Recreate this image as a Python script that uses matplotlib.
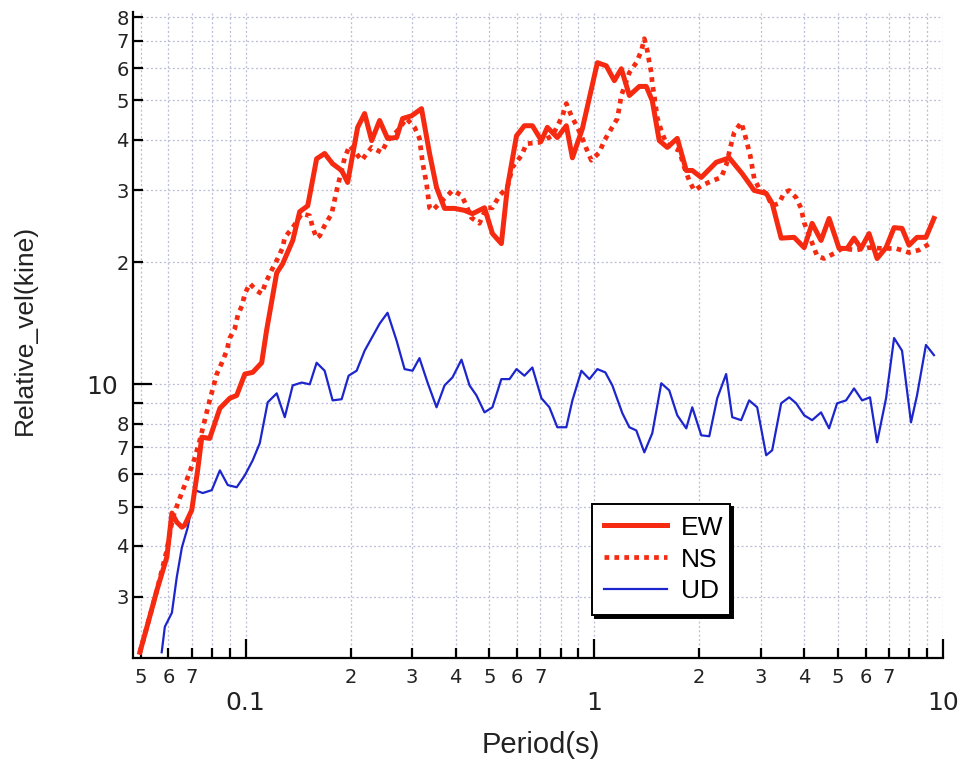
import numpy as np
import matplotlib
matplotlib.use('Agg')
import matplotlib.pyplot as plt
from matplotlib.ticker import LogLocator, FuncFormatter

plt.rcParams['font.family'] = ['DejaVu Sans']

# EW component (period s, relative velocity kine)
ew_period = [0.0497, 0.0524, 0.0556, 0.0594, 0.0614, 0.0634, 0.0656, 0.0668, 0.0700, 0.0728,
             0.0748, 0.0788, 0.0843, 0.0900, 0.0942, 0.0994, 0.1047, 0.1111, 0.1148, 0.1227,
             0.1276, 0.1364, 0.1428, 0.1506, 0.1597, 0.1684, 0.1775, 0.1884, 0.1960, 0.2094,
             0.2193, 0.2297, 0.2421, 0.2551, 0.2709, 0.2818, 0.2990, 0.3193, 0.3367, 0.3526,
             0.3718, 0.397, 0.424, 0.447, 0.484, 0.510, 0.541, 0.563, 0.598, 0.630,
             0.664, 0.705, 0.733, 0.783, 0.831, 0.865, 0.924, 1.020, 1.082, 1.141,
             1.195, 1.260, 1.346, 1.409, 1.466, 1.535, 1.619, 1.729, 1.835, 1.909,
             2.026, 2.237, 2.437, 2.655, 2.874, 3.111, 3.236, 3.434, 3.741, 3.998,
             4.213, 4.469, 4.713, 5.035, 5.309, 5.558, 5.821, 6.137, 6.471, 6.866,
             7.240, 7.630, 7.991, 8.424, 8.936, 9.42]
ew_vel = [2.19, 2.58, 3.11, 3.76, 4.82, 4.58, 4.45, 4.50, 4.90, 6.15,
          7.41, 7.36, 8.73, 9.24, 9.39, 10.6, 10.7, 11.3, 13.6, 18.8,
          19.8, 22.6, 26.6, 27.5, 35.9, 37.0, 34.9, 33.6, 31.4, 42.9,
          46.4, 39.8, 44.6, 40.3, 40.5, 45.1, 45.8, 47.7, 37.0, 30.5,
          27.1, 27.1, 26.8, 26.3, 27.2, 23.5, 22.2, 30.5, 40.9, 43.3,
          43.3, 39.8, 42.9, 40.5, 43.3, 36.1, 42.6, 61.9, 60.8, 55.9,
          59.8, 51.4, 54.1, 54.1, 49.9, 39.8, 38.3, 40.3, 33.6, 33.6,
          32.3, 35.2, 36.1, 33.0, 30.0, 29.5, 27.9, 22.9, 23.0, 21.7,
          24.9, 22.6, 25.6, 21.6, 21.6, 22.9, 21.6, 23.5, 20.4, 21.7,
          24.3, 24.2, 22.0, 23.0, 23.0, 25.6]

# NS component
ns_period = [0.0497, 0.0524, 0.0556, 0.0594, 0.0618, 0.0647, 0.0682, 0.0714, 0.0738, 0.0763,
             0.0788, 0.0826, 0.0854, 0.0882, 0.0900, 0.0930, 0.0949, 0.0975, 0.0994, 0.1027,
             0.1075, 0.1111, 0.1141, 0.1187, 0.1235, 0.1276, 0.1294, 0.1364, 0.1447, 0.1526,
             0.1556, 0.1597, 0.1630, 0.1684, 0.1764, 0.1823, 0.1859, 0.1922, 0.1986, 0.2150,
             0.2297, 0.2453, 0.2551, 0.2726, 0.2892, 0.3050, 0.3150, 0.3214, 0.330, 0.3367,
             0.3434, 0.3918, 0.4158, 0.4297, 0.444, 0.468, 0.490, 0.510, 0.535, 0.563,
             0.582, 0.618, 0.639, 0.696, 0.758, 0.810, 0.831, 0.859, 0.894, 0.924,
             0.949, 0.980, 1.033, 1.068, 1.119, 1.164, 1.179, 1.195, 1.260, 1.319,
             1.364, 1.391, 1.419, 1.438, 1.457, 1.466, 1.485, 1.515, 1.556, 1.608,
             1.673, 1.752, 1.811, 1.872, 1.934, 2.040, 2.179, 2.311, 2.388, 2.470,
             2.519, 2.637, 2.692, 2.744, 2.799, 2.874, 2.971, 3.111, 3.236, 3.388,
             3.503, 3.621, 3.792, 3.918, 3.998, 4.077, 4.186, 4.355, 4.561, 4.873,
             5.135, 5.633, 6.137, 6.685, 7.33, 7.991, 8.53, 9.24]
ns_vel = [2.19, 2.58, 3.11, 3.91, 4.71, 5.25, 5.91, 6.58, 7.28, 8.16,
          9.13, 10.6, 11.3, 12.1, 13.0, 13.7, 14.8, 15.6, 16.7, 17.7,
          17.0, 16.7, 17.8, 19.1, 20.4, 21.7, 23.0, 24.3, 26.3, 26.0,
          24.3, 22.9, 23.2, 24.6, 26.3, 30.0, 32.1, 36.1, 38.7, 35.6,
          38.3, 37.2, 39.8, 42.1, 45.1, 42.9, 40.3, 35.2, 31.2, 27.2,
          26.8, 30.0, 29.2, 27.5, 25.7, 24.9, 27.2, 27.2, 29.2, 30.5,
          34.2, 36.6, 39.1, 39.4, 40.9, 45.8, 49.1, 45.8, 42.9, 40.3,
          38.0, 35.6, 37.2, 39.8, 42.6, 45.1, 48.0, 51.4, 58.5, 61.9,
          66.2, 70.9, 66.2, 61.9, 58.5, 55.0, 51.4, 45.3, 42.1, 39.1,
          38.3, 37.6, 34.2, 31.7, 30.0, 30.9, 31.7, 32.3, 34.6, 39.1,
          41.7, 44.1, 41.7, 39.1, 36.6, 32.1, 30.3, 29.5, 27.5, 27.9,
          29.6, 30.0, 28.8, 27.1, 25.0, 23.9, 22.6, 20.7, 20.4, 21.0,
          21.6, 21.4, 21.7, 21.6, 21.6, 21.1, 21.4, 22.3]

# UD component
ud_period = [0.0574, 0.0586, 0.0614, 0.0634, 0.0656, 0.0682, 0.0714, 0.0753, 0.0799, 0.0843,
             0.0888, 0.0942, 0.0994, 0.1047, 0.1097, 0.1156, 0.1227, 0.1294, 0.1364, 0.1447,
             0.1526, 0.1597, 0.1684, 0.1775, 0.1884, 0.1973, 0.208, 0.2193, 0.2297, 0.2421,
             0.2551, 0.2709, 0.2855, 0.3010, 0.3150, 0.3323, 0.3526, 0.3718, 0.3918, 0.4158,
             0.4384, 0.459, 0.484, 0.510, 0.541, 0.571, 0.598, 0.630, 0.664, 0.705,
             0.743, 0.783, 0.831, 0.865, 0.918, 0.968, 1.020, 1.075, 1.126, 1.203,
             1.260, 1.319, 1.391, 1.466, 1.556, 1.640, 1.729, 1.835, 1.909, 2.026,
             2.136, 2.251, 2.388, 2.486, 2.637, 2.780, 2.931, 3.111, 3.236, 3.434,
             3.621, 3.792, 3.998, 4.213, 4.469, 4.713, 4.969, 5.273, 5.558, 5.861,
             6.175, 6.471, 6.866, 7.240, 7.630, 8.096, 8.424, 8.936, 9.42]
ud_vel = [2.19, 2.53, 2.74, 3.35, 3.97, 4.45, 5.49, 5.40, 5.49, 6.14,
          5.65, 5.58, 5.97, 6.50, 7.16, 9.03, 9.50, 8.30, 9.94, 10.1,
          10.0, 11.3, 10.8, 9.13, 9.19, 10.5, 10.8, 12.1, 13.0, 14.1,
          15.0, 12.8, 10.9, 10.8, 11.6, 10.1, 8.78, 9.94, 10.4, 11.5,
          9.94, 9.39, 8.53, 8.78, 10.3, 10.3, 10.9, 10.5, 11.0, 9.24,
          8.78, 7.84, 7.84, 9.13, 10.8, 10.3, 10.9, 10.7, 9.94, 8.49,
          7.84, 7.70, 6.80, 7.58, 10.06, 9.66, 8.39, 7.79, 8.78, 7.49,
          7.45, 9.24, 10.6, 8.30, 8.16, 9.13, 8.78, 6.69, 6.88, 8.98,
          9.29, 8.98, 8.39, 8.16, 8.53, 7.79, 8.98, 9.13, 9.77, 9.13,
          9.29, 7.20, 9.24, 13.0, 12.1, 8.06, 9.39, 12.5, 11.8]

red = '#f52a10'
blue = '#1c26cc'

fig = plt.figure(figsize=(9.64, 7.63), dpi=100)
ax = fig.add_axes([0.138, 0.1376, 0.8402, 0.8467])

ax.plot(ew_period, ew_vel, color=red, lw=3.6, solid_joinstyle='round', label='EW', zorder=4)
ax.plot(ns_period, ns_vel, color=red, lw=3.4, linestyle=(0, (1, 1.1)), label='NS', zorder=3)
ax.plot(ud_period, ud_vel, color=blue, lw=1.6, label='UD', zorder=3)

ax.set_xscale('log')
ax.set_yscale('log')
ax.set_xlim(0.0475, 10)
ax.set_ylim(2.12, 82.5)

for s in ['top', 'right']:
    ax.spines[s].set_visible(False)
for s in ['left', 'bottom']:
    ax.spines[s].set_linewidth(1.6)

ax.xaxis.set_major_locator(LogLocator(base=10, subs=[1.0]))
ax.xaxis.set_minor_locator(LogLocator(base=10, subs=np.arange(2, 10)))
ax.yaxis.set_major_locator(LogLocator(base=10, subs=[1.0]))
ax.yaxis.set_minor_locator(LogLocator(base=10, subs=np.arange(2, 10)))


def major_fmt(v, pos):
    if v >= 1:
        return '%d' % round(v)
    return '%g' % v


def minor_fmt(v, pos):
    d = int(round(v / 10 ** np.floor(np.log10(v) + 1e-9)))
    if d >= 8:
        return ''
    return str(d)


def minor_fmt_y(v, pos):
    d = int(round(v / 10 ** np.floor(np.log10(v) + 1e-9)))
    if d >= 9:
        return ''
    return str(d)


ax.xaxis.set_major_formatter(FuncFormatter(major_fmt))
ax.xaxis.set_minor_formatter(FuncFormatter(minor_fmt))
ax.yaxis.set_major_formatter(FuncFormatter(major_fmt))
ax.yaxis.set_minor_formatter(FuncFormatter(minor_fmt_y))

ax.tick_params(which='major', direction='in', length=14, width=1.6, labelsize=18, color='black')
ax.tick_params(which='minor', direction='in', length=7, width=1.6, labelsize=14, color='black')
ax.tick_params(axis='x', which='minor', pad=7)
ax.tick_params(axis='x', which='major', pad=24)
ax.tick_params(axis='y', which='minor', pad=3)
ax.tick_params(axis='y', which='major', pad=11)
for lab in ax.get_xticklabels(which='both') + ax.get_yticklabels(which='both'):
    lab.set_color('#222222')

ax.grid(True, which='both', linestyle=(0, (1.5, 2)), color='#b8bad6', lw=0.9)
ax.set_axisbelow(True)

fig.text(0.561, 0.0236, 'Period(s)', fontsize=21, family='Liberation Sans', ha='center', va='center',
         color='#222222')
fig.text(0.026, 0.567, 'Relative_vel(kine)', fontsize=19, family='Liberation Sans', rotation=90,
         ha='center', va='center', color='#222222')

leg = ax.legend(loc='lower left', bbox_to_anchor=(0.567, 0.066, 0.17, 0.18), mode='expand',
                prop={'family': 'Liberation Sans', 'size': 19}, frameon=True, fancybox=False,
                shadow={'color': 'black', 'alpha': 1.0, 'ox': 2, 'oy': -2},
                handlelength=2.4, handletextpad=0.5, labelspacing=0.3, borderpad=0.45,
                borderaxespad=0)
leg.get_frame().set_edgecolor('black')
leg.get_frame().set_linewidth(1.4)
leg.get_frame().set_alpha(1)

fig.savefig('out.png', dpi=100, facecolor='white')
